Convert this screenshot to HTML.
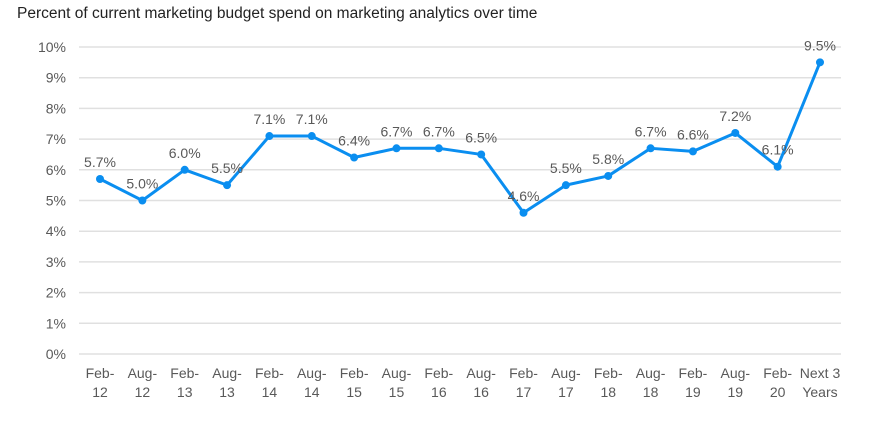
<!DOCTYPE html>
<html><head><meta charset="utf-8"><style>
body{margin:0;background:#fff;width:869px;height:424px;overflow:hidden;font-family:"Liberation Sans",sans-serif}
</style></head><body>
<svg width="869" height="424" xmlns="http://www.w3.org/2000/svg" font-family="Liberation Sans, sans-serif">
<text x="17" y="18" font-size="15.5" fill="#222">Percent of current marketing budget spend on marketing analytics over time</text>
<g id="grid"></g><g id="yl"></g><g id="xl"></g><g id="series"></g>
</svg>
<script>
const categories=[["Feb-","12"],["Aug-","12"],["Feb-","13"],["Aug-","13"],["Feb-","14"],["Aug-","14"],["Feb-","15"],["Aug-","15"],["Feb-","16"],["Aug-","16"],["Feb-","17"],["Aug-","17"],["Feb-","18"],["Aug-","18"],["Feb-","19"],["Aug-","19"],["Feb-","20"],["Next 3","Years"]];
const values=[5.7,5.0,6.0,5.5,7.1,7.1,6.4,6.7,6.7,6.5,4.6,5.5,5.8,6.7,6.6,7.2,6.1,9.5];
const yTicks=[0,1,2,3,4,5,6,7,8,9,10];
const NS="http://www.w3.org/2000/svg";
const y=v=>354-v*30.7;
const x=i=>100+i*(720/(categories.length-1));
function mk(t,a,p){const e=document.createElementNS(NS,t);for(const k in a)e.setAttribute(k,a[k]);p.appendChild(e);return e;}
const grid=document.getElementById('grid'),yl=document.getElementById('yl'),xl=document.getElementById('xl'),s=document.getElementById('series');
yTicks.forEach(t=>{
 const l=mk('line',{x1:79,x2:841,y1:y(t),y2:y(t),stroke:'#e0e0e0','stroke-width':1.5},grid);
 
 
 const tx=mk('text',{x:66,y:y(t)+5,'text-anchor':'end','font-size':14,fill:'#595959'},yl);
 tx.textContent=t+'%';
 
 
});
categories.forEach((c,i)=>{
 const tx=mk('text',{x:x(i),y:378,'text-anchor':'middle','font-size':14,fill:'#595959'},xl);
 
 
 mk('tspan',{x:x(i),dy:0},tx).textContent=c[0];
 mk('tspan',{x:x(i),dy:19},tx).textContent=c[1];
});
const pl=mk('polyline',{points:values.map((v,i)=>x(i)+','+y(v)).join(' '),fill:'none',stroke:'#0a8ef0','stroke-width':3,'stroke-linejoin':'round'},s);


values.forEach((v,i)=>{
 const c=mk('circle',{cx:x(i),cy:y(v),r:4,fill:'#0a8ef0'},s);
 
 
 const t=mk('text',{x:x(i),y:y(v)-12,'text-anchor':'middle','font-size':14,fill:'#595959'},s);
 t.textContent=v.toFixed(1)+'%';
 
 
});
</script>
</body></html>
